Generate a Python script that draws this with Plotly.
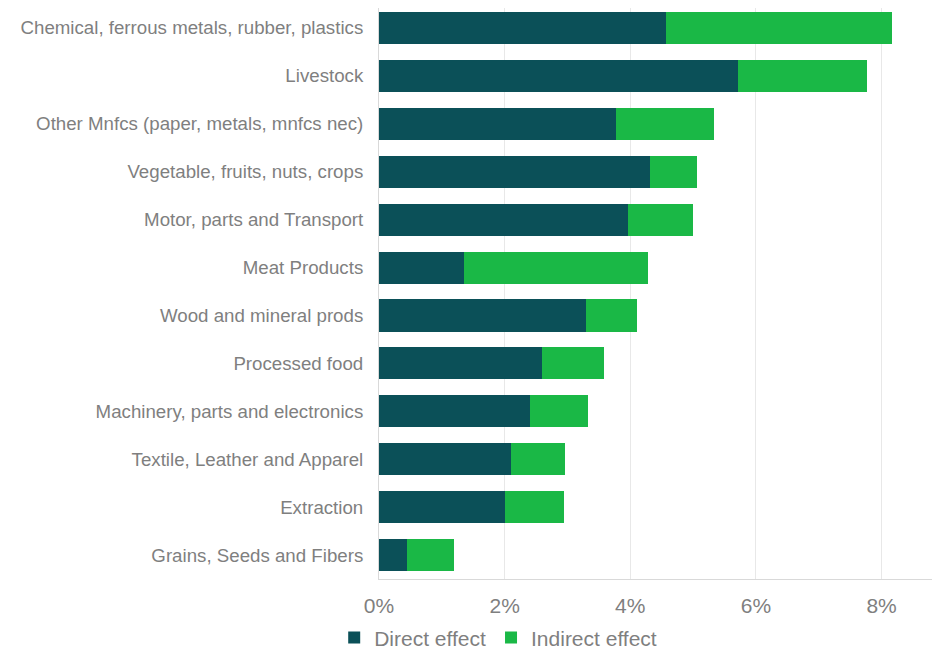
import plotly.graph_objects as go

categories = [
    "Chemical, ferrous metals, rubber, plastics",
    "Livestock",
    "Other Mnfcs (paper, metals, mnfcs nec)",
    "Vegetable, fruits, nuts, crops",
    "Motor, parts and Transport",
    "Meat Products",
    "Wood and mineral prods",
    "Processed food",
    "Machinery, parts and electronics",
    "Textile, Leather and Apparel",
    "Extraction",
    "Grains, Seeds and Fibers",
]
direct_effect = [4.57, 5.72, 3.77, 4.32, 3.96, 1.36, 3.29, 2.59, 2.41, 2.10, 2.00, 0.45]
indirect_effect = [3.60, 2.04, 1.56, 0.74, 1.04, 2.92, 0.81, 0.99, 0.92, 0.86, 0.95, 0.75]
tick_vals = [0, 2, 4, 6, 8]
tick_text = ["0%", "2%", "4%", "6%", "8%"]

GRAY = "#7f7f7f"
FONT = "Liberation Sans, Arial, sans-serif"

fig = go.Figure()
fig.add_trace(go.Bar(y=categories, x=direct_effect, orientation="h", name="Direct effect",
                     marker=dict(color="#0b5058", line=dict(width=0))))
fig.add_trace(go.Bar(y=categories, x=indirect_effect, orientation="h", name="Indirect effect",
                     marker=dict(color="#1ab846", line=dict(width=0))))

fig.update_layout(
    barmode="stack",
    bargap=0.33,
    width=932, height=642,
    margin=dict(l=371, r=0, t=0, b=69),
    paper_bgcolor="white", plot_bgcolor="white",
    font=dict(family=FONT, color=GRAY),
    showlegend=True,
    legend=dict(orientation="h", xref="container", yref="container",
                x=0.350, y=0.019, xanchor="left", yanchor="middle",
                font=dict(size=21, color=GRAY), traceorder="normal",
                itemwidth=30),
    xaxis=dict(range=[0, 8.93], tickvals=tick_vals, ticktext=tick_text,
               tickfont=dict(size=21, color=GRAY), showgrid=True, gridcolor="#e8e8e8",
               gridwidth=1, zeroline=False, showline=True, linecolor="#d9d9d9",
               linewidth=1, ticks="outside", ticklen=8, tickcolor="rgba(0,0,0,0)",
               fixedrange=True),
    yaxis=dict(categoryorder="array", categoryarray=categories[::-1],
               range=[-0.5, 11.416],
               tickfont=dict(size=18.7, color=GRAY), showline=True, linecolor="#d9d9d9",
               linewidth=1, ticks="outside", ticklen=11, tickcolor="rgba(0,0,0,0)",
               showgrid=False, fixedrange=True),
)

fig.write_html("out.html")
